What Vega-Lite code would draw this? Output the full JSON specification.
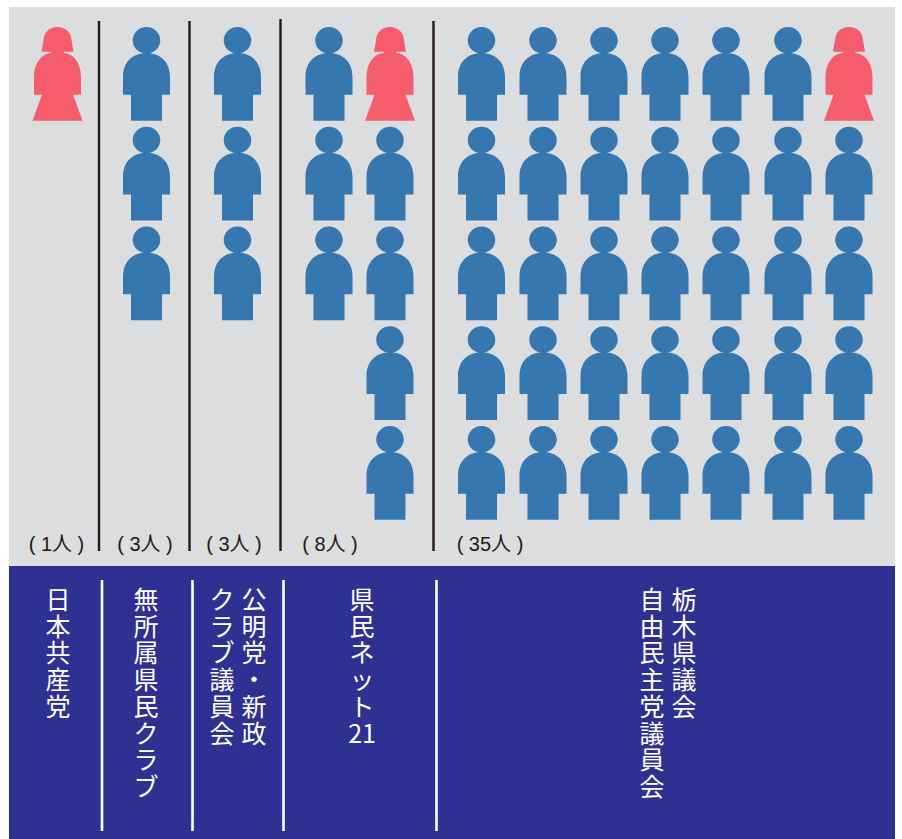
{
"$schema":"https://vega.github.io/schema/vega-lite/v6.json",
"width":902,"height":839,"padding":0,
"autosize":{"type":"fit","contains":"padding"},
"background":"#ffffff",
"config":{"view":{"stroke":null}},
"datasets":{
"panels":[{"panel":"seats","x1":9,"x2":895,"y1":7,"y2":566},{"panel":"names","x1":9,"x2":895,"y1":566,"y2":839}],
"people":[
{"party":"日本共産党","col":57.5,"row":1,"gender":"女"},
{"party":"無所属県民クラブ","col":146.5,"row":1,"gender":"男"},{"party":"無所属県民クラブ","col":146.5,"row":2,"gender":"男"},{"party":"無所属県民クラブ","col":146.5,"row":3,"gender":"男"},
{"party":"公明党・新政クラブ議員会","col":237.5,"row":1,"gender":"男"},{"party":"公明党・新政クラブ議員会","col":237.5,"row":2,"gender":"男"},{"party":"公明党・新政クラブ議員会","col":237.5,"row":3,"gender":"男"},
{"party":"県民ネット21","col":329,"row":1,"gender":"男"},{"party":"県民ネット21","col":329,"row":2,"gender":"男"},{"party":"県民ネット21","col":329,"row":3,"gender":"男"},
{"party":"県民ネット21","col":390,"row":1,"gender":"女"},{"party":"県民ネット21","col":390,"row":2,"gender":"男"},{"party":"県民ネット21","col":390,"row":3,"gender":"男"},{"party":"県民ネット21","col":390,"row":4,"gender":"男"},{"party":"県民ネット21","col":390,"row":5,"gender":"男"},
{"party":"自民","col":481.5,"row":1,"gender":"男"},{"party":"自民","col":481.5,"row":2,"gender":"男"},{"party":"自民","col":481.5,"row":3,"gender":"男"},{"party":"自民","col":481.5,"row":4,"gender":"男"},{"party":"自民","col":481.5,"row":5,"gender":"男"},
{"party":"自民","col":543,"row":1,"gender":"男"},{"party":"自民","col":543,"row":2,"gender":"男"},{"party":"自民","col":543,"row":3,"gender":"男"},{"party":"自民","col":543,"row":4,"gender":"男"},{"party":"自民","col":543,"row":5,"gender":"男"},
{"party":"自民","col":604,"row":1,"gender":"男"},{"party":"自民","col":604,"row":2,"gender":"男"},{"party":"自民","col":604,"row":3,"gender":"男"},{"party":"自民","col":604,"row":4,"gender":"男"},{"party":"自民","col":604,"row":5,"gender":"男"},
{"party":"自民","col":665,"row":1,"gender":"男"},{"party":"自民","col":665,"row":2,"gender":"男"},{"party":"自民","col":665,"row":3,"gender":"男"},{"party":"自民","col":665,"row":4,"gender":"男"},{"party":"自民","col":665,"row":5,"gender":"男"},
{"party":"自民","col":726,"row":1,"gender":"男"},{"party":"自民","col":726,"row":2,"gender":"男"},{"party":"自民","col":726,"row":3,"gender":"男"},{"party":"自民","col":726,"row":4,"gender":"男"},{"party":"自民","col":726,"row":5,"gender":"男"},
{"party":"自民","col":788,"row":1,"gender":"男"},{"party":"自民","col":788,"row":2,"gender":"男"},{"party":"自民","col":788,"row":3,"gender":"男"},{"party":"自民","col":788,"row":4,"gender":"男"},{"party":"自民","col":788,"row":5,"gender":"男"},
{"party":"自民","col":849,"row":1,"gender":"女"},{"party":"自民","col":849,"row":2,"gender":"男"},{"party":"自民","col":849,"row":3,"gender":"男"},{"party":"自民","col":849,"row":4,"gender":"男"},{"party":"自民","col":849,"row":5,"gender":"男"}
],
"dividers":[{"x":99,"y1":21,"y2":551},{"x":189.5,"y1":21,"y2":551},{"x":280.5,"y1":19,"y2":551},{"x":433.5,"y1":21,"y2":551}],
"nameDividers":[{"x":102,"y1":580,"y2":831},{"x":192.5,"y1":580,"y2":831},{"x":283.5,"y1":580,"y2":831},{"x":436.5,"y1":580,"y2":831}],
"counts":[{"label":"( 1人 )","x":56.5,"y":545},{"label":"( 3人 )","x":145,"y":545},{"label":"( 3人 )","x":234,"y":545},{"label":"( 8人 )","x":330,"y":545},{"label":"( 35人 )","x":490,"y":545}],
"names":[
{"label":"日\n本\n共\n産\n党","x":58,"y":589},
{"label":"無\n所\n属\n県\n民\nク\nラ\nブ","x":146,"y":589},
{"label":"公\n明\n党\n・\n新\n政","x":254,"y":589},
{"label":"ク\nラ\nブ\n議\n員\n会","x":222,"y":589},
{"label":"県\n民\nネ\nッ\nト\n21","x":362,"y":589},
{"label":"栃\n木\n県\n議\n会","x":684,"y":589},
{"label":"自\n由\n民\n主\n党\n議\n員\n会","x":652,"y":589}
]
},
"layer":[
{"data":{"name":"panels"},"mark":{"type":"rect"},
"encoding":{
"x":{"field":"x1","type":"quantitative","scale":{"domain":[0,902],"nice":false,"zero":false},"axis":null},"x2":{"field":"x2"},
"y":{"field":"y1","type":"quantitative","scale":{"domain":[0,839],"nice":false,"zero":false,"reverse":true},"axis":null},"y2":{"field":"y2"},
"color":{"field":"panel","type":"nominal","scale":{"domain":["seats","names"],"range":["#DCDDDE","#2E3192"]},"legend":null}}},
{"data":{"name":"dividers"},"mark":{"type":"rule","color":"#231815","strokeWidth":2.4},
"encoding":{
"x":{"field":"x","type":"quantitative"},
"y":{"field":"y1","type":"quantitative","scale":{"domain":[0,839],"nice":false,"zero":false,"reverse":true},"axis":null},"y2":{"field":"y2"}}},
{"data":{"name":"nameDividers"},"mark":{"type":"rule","color":"#ffffff","strokeWidth":2.6},
"encoding":{
"x":{"field":"x","type":"quantitative"},
"y":{"field":"y1","type":"quantitative","scale":{"domain":[0,839],"nice":false,"zero":false,"reverse":true},"axis":null},"y2":{"field":"y2"}}},
{"data":{"name":"people"},"mark":{"type":"point","filled":true,"size":4,"opacity":1,"strokeWidth":0},
"encoding":{
"x":{"field":"col","type":"quantitative"},
"y":{"field":"row","type":"quantitative","scale":{"domain":[0.258,8.669],"nice":false,"zero":false,"reverse":true},"axis":null},
"color":{"field":"gender","type":"nominal","scale":{"domain":["男","女"],"range":["#3677B0","#F55D6C"]},"legend":null},
"shape":{"field":"gender","type":"nominal","scale":{"domain":["男","女"],"range":[
"M0,-21C14,-21 23.5,-12 23.5,3L23.5,20.7L15.5,20.7L15.5,46.7L-15.5,46.7L-15.5,20.7L-23.5,20.7L-23.5,3C-23.5,-12 -14,-21 0,-21ZM0,-47C7.6,-47 13.8,-41 13.8,-33.7C13.8,-26.4 7.6,-20.4 0,-20.4C-7.6,-20.4 -13.8,-26.4 -13.8,-33.7C-13.8,-41 -7.6,-47 0,-47Z",
"M0,-47C8,-47 13.2,-42 13.8,-35L16,-22.3L6.3,-22.3L6.3,-21C15,-20.5 23.5,-12 23.5,3L23.5,20.7L15.5,20.7L25,46.7L-25,46.7L-15.5,20.7L-23.5,20.7L-23.5,3C-23.5,-12 -15,-20.5 -6.3,-21L-6.3,-22.3L-16,-22.3L-13.8,-35C-13.2,-42 -8,-47 0,-47Z"
]},"legend":null}}},
{"data":{"name":"counts"},"mark":{"type":"text","font":"Liberation Sans, Noto Sans CJK JP","fontSize":20,"color":"#231815","align":"center","baseline":"middle"},
"encoding":{
"x":{"field":"x","type":"quantitative"},
"y":{"field":"y","type":"quantitative","scale":{"domain":[0,839],"nice":false,"zero":false,"reverse":true},"axis":null},
"text":{"field":"label","type":"nominal"}}},
{"data":{"name":"names"},"mark":{"type":"text","font":"Noto Sans CJK JP","fontSize":25,"lineHeight":26.7,"lineBreak":"\n","color":"#ffffff","align":"center","baseline":"top"},
"encoding":{
"x":{"field":"x","type":"quantitative"},
"y":{"field":"y","type":"quantitative","scale":{"domain":[0,839],"nice":false,"zero":false,"reverse":true},"axis":null},
"text":{"field":"label","type":"nominal"}}}
],
"resolve":{"scale":{"y":"independent","color":"independent","shape":"independent"}}
}
